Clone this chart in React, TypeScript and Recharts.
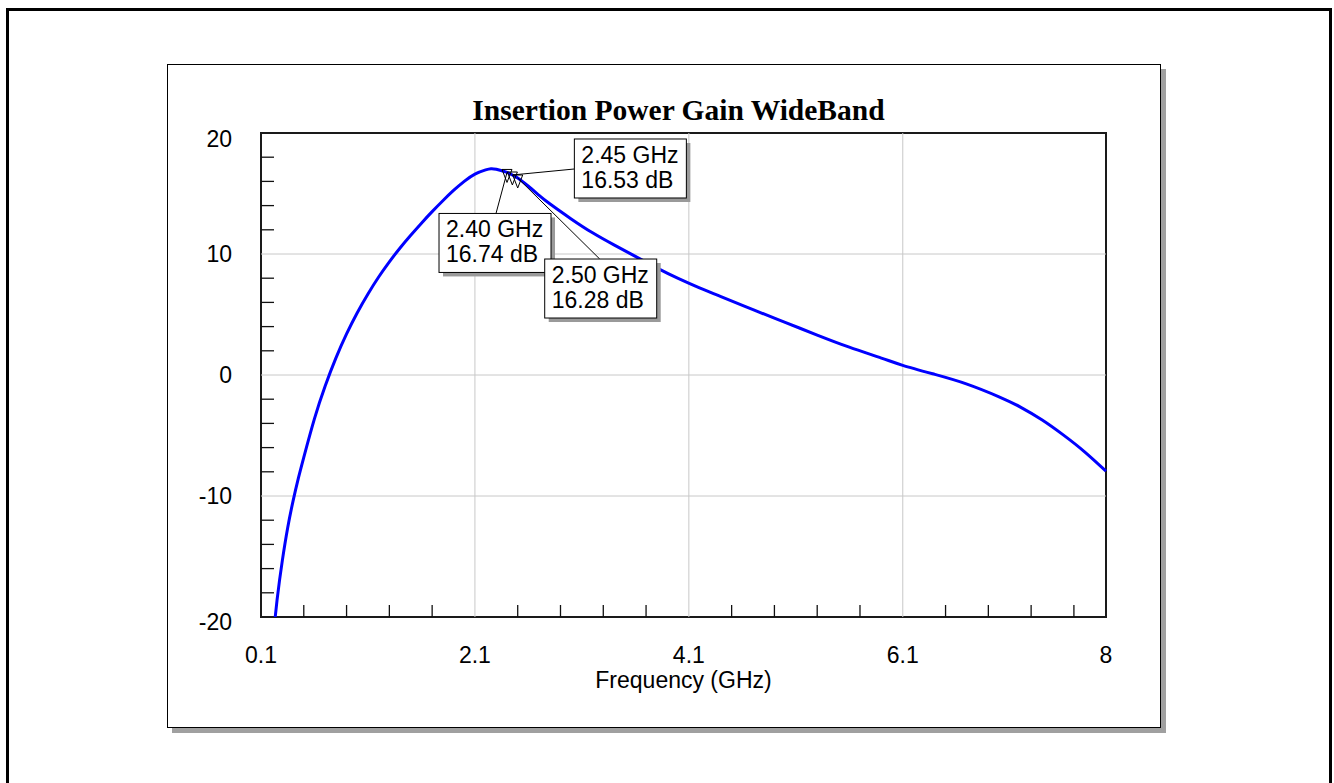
import { LineChart, Line, XAxis, YAxis, ReferenceLine, ReferenceArea, ReferenceDot } from "recharts"

// frequency (GHz) and insertion power gain (dB)
const FREQ = [
  0.2, 0.25, 0.3, 0.35, 0.4, 0.45, 0.5, 0.6, 0.7, 0.8, 0.9, 1.0, 1.1, 1.2, 1.3, 1.4, 1.5, 1.6, 1.7, 1.8,
  1.9, 2.0, 2.1, 2.2, 2.25, 2.3, 2.4, 2.45, 2.5, 2.6, 2.7, 2.8, 3.0, 3.2, 3.4, 3.6, 3.8, 4.0, 4.2, 4.4,
  4.7, 5.0, 5.3, 5.6, 5.9, 6.1, 6.4, 6.7, 7.0, 7.2, 7.4, 7.6, 7.8, 8.0,
]
const GAIN = [
  -22.7, -18.6, -15.3, -12.6, -10.4, -8.5, -6.8, -3.6, -0.9, 1.4, 3.4, 5.15, 6.7, 8.1, 9.35, 10.5, 11.55, 12.55, 13.5, 14.4,
  15.25, 16.0, 16.6, 16.95, 17.05, 17.0, 16.74, 16.53, 16.28, 15.6, 14.85, 14.15, 12.9, 11.75, 10.75, 9.8, 8.85, 7.98, 7.2, 6.48,
  5.4, 4.35, 3.3, 2.3, 1.4, 0.8, 0.05, -0.75, -1.8, -2.65, -3.7, -4.95, -6.35, -7.95,
]

const X_LABELED = [0.1, 2.1, 4.1, 6.1, 8]
const X_MINOR = [0.5, 0.9, 1.3, 1.7, 2.5, 2.9, 3.3, 3.7, 4.5, 4.9, 5.3, 5.7, 6.5, 6.9, 7.3, 7.7]
const X_GRID = [2.1, 4.1, 6.1]
const Y_LABELED = [-20, -10, 0, 10, 20]
const Y_MINOR = [-18, -16, -14, -12, -8, -6, -4, -2, 2, 4, 6, 8, 12, 14, 16, 18]
const Y_GRID = [-10, 0, 10]

const MARKER_FREQ = [2.4, 2.45, 2.5]
const MARKER_GAIN = [16.74, 16.53, 16.28]

// where each marker's readout box sits, relative to the marker point
const LABEL_BOX = [
  { dx: -68, dy: 41, ax: 57, ay: 0 },
  { dx: 62, dy: -36, ax: 0, ay: 30 },
  { dx: 27, dy: 81, ax: 55, ay: 0 },
]

const SANS = "'Liberation Sans', Arial, Helvetica, sans-serif"
const FS = 23
const X_MARGIN = 38
const Y_MARGIN = 29

const data = FREQ.map((f, i) => ({ f, g: GAIN[i] }))

function XTick(props: any) {
  const { x, y, payload } = props
  const v = payload.value
  if (X_LABELED.includes(v)) {
    return (
      <text x={x} y={y} dy="0.36em" textAnchor="middle" fontFamily={SANS} fontSize={FS} fill="#000">
        {v}
      </text>
    )
  }
  return <line x1={x} x2={x} y1={y - X_MARGIN} y2={y - X_MARGIN - 12} stroke="#111" strokeWidth={1.3} />
}

function YTick(props: any) {
  const { x, y, payload } = props
  const v = payload.value
  if (Y_LABELED.includes(v)) {
    const shift = v === 20 ? 6 : v === -20 ? 5 : 0
    return (
      <text x={x} y={y + shift} dy="0.36em" textAnchor="end" fontFamily={SANS} fontSize={FS} fill="#000">
        {v}
      </text>
    )
  }
  return <line x1={x + Y_MARGIN} x2={x + Y_MARGIN + 13} y1={y} y2={y} stroke="#111" strokeWidth={1.3} />
}

function markerShape(i: number) {
  return (props: any) => {
    const { cx, cy } = props
    const o = LABEL_BOX[i]
    const bx = cx + o.dx
    const by = cy + o.dy
    return (
      <g>
        <path d={`M${cx - 5},${cy - 3} L${cx + 5},${cy - 3} L${cx},${cy + 10} Z`} fill="none" stroke="#000" strokeWidth={1} />
        <line x1={cx} y1={cy} x2={bx + o.ax} y2={by + o.ay} stroke="#000" strokeWidth={1} />
        <rect x={bx + 4} y={by + 4} width={112} height={59} fill="#9a9a9a" />
        <rect x={bx} y={by} width={112} height={59} fill="#fff" stroke="#000" strokeWidth={1} />
        <text x={bx + 7} y={by + 24} fontFamily={SANS} fontSize={FS} fill="#000">
          {MARKER_FREQ[i].toFixed(2)} GHz
        </text>
        <text x={bx + 7} y={by + 49} fontFamily={SANS} fontSize={FS} fill="#000">
          {MARKER_GAIN[i].toFixed(2)} dB
        </text>
      </g>
    )
  }
}

export default function App() {
  return (
    <div style={{ position: "relative", width: 1334, height: 783, overflow: "hidden", background: "#fff" }}>
      <style>{"body{margin:0}"}</style>
      <div
        style={{
          position: "absolute", left: 6, top: 8, width: 1326, height: 820,
          border: "3px solid #000", boxSizing: "border-box",
        }}
      />
      <div
        style={{
          position: "absolute", left: 167, top: 64, width: 994, height: 664,
          border: "1px solid #000", boxSizing: "border-box", background: "#fff",
          boxShadow: "5px 5px 0 #a0a0a0",
        }}
      >
        <LineChart width={992} height={662} data={data} margin={{ top: 68, right: 54, left: 0, bottom: 0 }}>
          {X_GRID.map((v) => (
            <ReferenceLine key={"x" + v} x={v} stroke="#c8c8c8" strokeWidth={1} />
          ))}
          {Y_GRID.map((v) => (
            <ReferenceLine key={"y" + v} y={v} stroke="#c8c8c8" strokeWidth={1} />
          ))}
          <XAxis
            type="number"
            dataKey="f"
            domain={[0.1, 8]}
            ticks={[...X_LABELED, ...X_MINOR].sort((a, b) => a - b)}
            interval={0}
            height={110}
            tickSize={0}
            tickMargin={X_MARGIN}
            tickLine={false}
            axisLine={false}
            tick={(p: any) => <XTick {...p} />}
            label={{ value: "Frequency (GHz)", position: "insideBottom", offset: 39, fontFamily: SANS, fontSize: FS, fill: "#000" }}
          />
          <YAxis
            type="number"
            domain={[-20, 20]}
            allowDataOverflow
            ticks={[...Y_LABELED, ...Y_MINOR].sort((a, b) => a - b)}
            interval={0}
            width={93}
            tickSize={0}
            tickMargin={Y_MARGIN}
            tickLine={false}
            axisLine={false}
            tick={(p: any) => <YTick {...p} />}
          />
          <Line
            type="natural"
            dataKey="g"
            stroke="#0000ff"
            strokeWidth={3}
            dot={false}
            activeDot={false}
            isAnimationActive={false}
          />
          <ReferenceArea x1={0.1} x2={8} y1={-20} y2={20} fill="none" stroke="#1a1a1a" strokeWidth={2} />
          {MARKER_FREQ.map((f, i) => (
            <ReferenceDot key={f} x={f} y={MARKER_GAIN[i]} r={0} zIndex={2500} shape={markerShape(i)} />
          ))}
        </LineChart>
      </div>
      <div
        style={{
          position: "absolute", left: 378, top: 96, width: 601, textAlign: "center",
          fontFamily: "'Liberation Serif', 'Times New Roman', serif", fontWeight: "bold",
          fontSize: 29.5, lineHeight: "29.5px", color: "#000",
        }}
      >
        Insertion Power Gain WideBand
      </div>
    </div>
  )
}
